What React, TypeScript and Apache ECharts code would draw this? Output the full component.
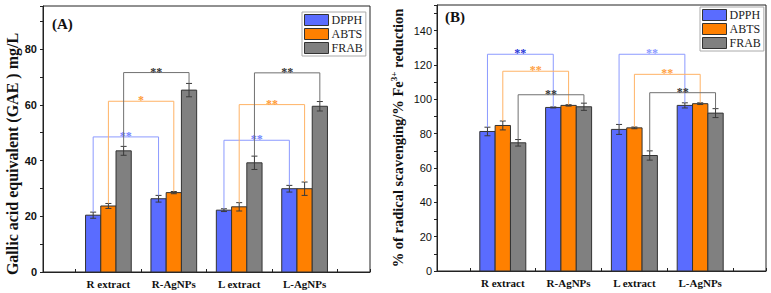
import React, { useEffect, useRef } from "react";
import * as echarts from "echarts";

const categories = ["R extract", "R-AgNPs", "L extract", "L-AgNPs"];
const seriesNames = ["DPPH", "ABTS", "FRAB"];

// Chart A: Gallic acid equivalent
const A_DPPH = [20.4, 26.3, 22.2, 29.9];
const A_DPPH_err = [1.1, 1.2, 0.5, 1.2];
const A_ABTS = [23.7, 28.5, 23.4, 29.9];
const A_ABTS_err = [0.9, 0.4, 1.5, 2.4];
const A_FRAB = [43.5, 65.3, 39.2, 59.5];
const A_FRAB_err = [1.6, 2.4, 2.4, 1.7];

// Chart B: % scavenging
const B_DPPH = [81.3, 95.3, 82.5, 96.5];
const B_DPPH_err = [2.5, 0.3, 2.9, 1.5];
const B_ABTS = [84.8, 96.5, 83.4, 97.5];
const B_ABTS_err = [2.6, 0.4, 0.5, 0.5];
const B_FRAB = [74.7, 95.7, 67.3, 92.0];
const B_FRAB_err = [1.9, 2.1, 2.7, 2.6];

// significance brackets: [series index, from group, to group, bracket height, label]
const A_brackets: [number, number, number, number, string][] = [
  [0, 0, 1, 48.5, "**"],
  [1, 0, 1, 61.3, "*"],
  [2, 0, 1, 71.6, "**"],
  [0, 2, 3, 47.3, "**"],
  [1, 2, 3, 60.1, "**"],
  [2, 2, 3, 71.5, "**"],
];
const B_brackets: [number, number, number, number, string][] = [
  [0, 0, 1, 126.3, "**"],
  [1, 0, 1, 116.4, "**"],
  [2, 0, 1, 102.7, "**"],
  [0, 2, 3, 126.3, "**"],
  [1, 2, 3, 114.6, "**"],
  [2, 2, 3, 103.9, "**"],
];

const A_yTicks = [0, 20, 40, 60, 80];
const B_yTicks = [0, 20, 40, 60, 80, 100, 120, 140];

const COLORS = ["#5a6cff", "#ff8000", "#808080"];
const LINE_COLORS = ["#8c9aff", "#ffb366", "#707070"];
const A_LABEL_COLORS = ["#7082ff", "#ff9a33", "#333333"];
const B_LABEL_COLORS_R = ["#2434d8", "#ffa040", "#333333"];
const B_LABEL_COLORS_L = ["#8c9aff", "#ffa040", "#333333"];

const SERIF = '"Liberation Serif", "Times New Roman", serif';
const SANS = '"Liberation Sans", Arial, sans-serif';
const BW = 0.233;
const OFFSETS = [-BW, 0, BW];

function barSeries(name: string, idx: number, gridIdx: number, vals: number[], errs: number[]) {
  return {
    type: "custom",
    name,
    xAxisIndex: gridIdx,
    yAxisIndex: gridIdx,
    itemStyle: { color: COLORS[idx] },
    encode: { x: 0, y: 1 },
    data: vals.map((v, i) => [i, v, errs[i]]),
    renderItem: (params: any, api: any) => {
      const g = api.value(0);
      const v = api.value(1);
      const e = api.value(2);
      const xc = g + 1 + OFFSETS[idx];
      const p0 = api.coord([xc - BW / 2, 0]);
      const p1 = api.coord([xc + BW / 2, v]);
      const pc = api.coord([xc, v]);
      const pt = api.coord([xc, v + e]);
      const pb = api.coord([xc, v - e]);
      const cap = 3;
      const ls = { stroke: "#3a3a3a", lineWidth: 1 };
      return {
        type: "group",
        children: [
          {
            type: "rect",
            shape: { x: p0[0], y: p1[1], width: p1[0] - p0[0], height: p0[1] - p1[1] },
            style: { fill: COLORS[idx], stroke: "#333", lineWidth: 1 },
          },
          { type: "line", shape: { x1: pc[0], y1: pt[1], x2: pc[0], y2: pb[1] }, style: ls },
          { type: "line", shape: { x1: pc[0] - cap, y1: pt[1], x2: pc[0] + cap, y2: pt[1] }, style: ls },
          { type: "line", shape: { x1: pc[0] - cap, y1: pb[1], x2: pc[0] + cap, y2: pb[1] }, style: ls },
        ],
      };
    },
  };
}

function bracketSeries(
  gridIdx: number,
  brackets: [number, number, number, number, string][],
  vals: number[][],
  errs: number[][],
  labelColor: (b: [number, number, number, number, string]) => string
) {
  return {
    type: "custom",
    xAxisIndex: gridIdx,
    yAxisIndex: gridIdx,
    silent: true,
    encode: { x: 0, y: 1 },
    data: brackets.map((b) => [b[1], b[3], b[2]]),
    renderItem: (params: any, api: any) => {
      const b = brackets[params.dataIndex];
      const s = b[0];
      const from = b[1];
      const to = b[2];
      const h = b[3];
      const xl = from + 1 + OFFSETS[s];
      const xr = to + 1 + OFFSETS[s];
      const lb = vals[s][from] + errs[s][from];
      const rb = vals[s][to] + errs[s][to];
      const pl = api.coord([xl, h]);
      const pr = api.coord([xr, h]);
      const plb = api.coord([xl, lb]);
      const prb = api.coord([xr, rb]);
      const ls = { stroke: LINE_COLORS[s], lineWidth: 1, fill: "none" };
      return {
        type: "group",
        children: [
          {
            type: "polyline",
            shape: { points: [[pl[0], plb[1]], [pl[0], pl[1]], [pr[0], pr[1]], [pr[0], prb[1]]] },
            style: ls,
          },
          {
            type: "text",
            x: (pl[0] + pr[0]) / 2,
            y: pl[1] - 1,
            style: {
              text: b[4],
              fill: labelColor(b),
              font: `bold 12px ${SERIF}`,
              textAlign: "center",
              textVerticalAlign: "middle",
            },
          },
        ],
      };
    },
  };
}

function xAxis(gridIndex: number) {
  return {
    type: "value",
    gridIndex,
    min: 0,
    max: 5,
    interval: 0.5,
    axisLine: { show: true, onZero: false, lineStyle: { color: "#222", width: 1 } },
    axisTick: { show: true, inside: true, length: 3, lineStyle: { color: "#222" } },
    splitLine: { show: false },
    axisLabel: {
      color: "#111",
      fontFamily: SERIF,
      fontWeight: "bold",
      fontSize: 11,
      margin: 6,
      formatter: (v: number) => {
        const r = Math.round(v);
        if (Math.abs(v - r) < 1e-6 && r >= 1 && r <= categories.length) return categories[r - 1];
        return "";
      },
    },
  };
}

function yAxis(gridIndex: number, max: number, labels: number[], bold: boolean, margin: number) {
  return {
    type: "value",
    gridIndex,
    min: 0,
    max,
    interval: 10,
    axisLine: { show: true, onZero: false, lineStyle: { color: "#222", width: 1 } },
    axisTick: { show: true, inside: false, length: 3, lineStyle: { color: "#222" } },
    splitLine: { show: false },
    axisLabel: {
      color: "#111",
      fontFamily: SANS,
      fontWeight: bold ? "bold" : "normal",
      fontSize: 11,
      margin,
      formatter: (v: number) => (labels.indexOf(v) >= 0 ? String(v) : ""),
    },
  };
}

function legend(left: number, top: number) {
  return {
    data: seriesNames,
    orient: "vertical",
    left,
    top,
    icon: "rect",
    itemWidth: 24,
    itemHeight: 11,
    itemGap: 2,
    padding: [2, 3, 2, 2],
    borderColor: "#aaa",
    borderWidth: 1,
    backgroundColor: "#fff",
    selectedMode: false,
    itemStyle: { borderColor: "#333", borderWidth: 1 },
    textStyle: { fontFamily: SERIF, fontSize: 12, color: "#222", padding: [0, 0, 0, -2] },
  };
}

export default function App() {
  const ref = useRef<HTMLDivElement>(null);
  useEffect(() => {
    if (!ref.current) return;
    const chart = echarts.init(ref.current, null, { renderer: "svg" });
    const Avals = [A_DPPH, A_ABTS, A_FRAB];
    const Aerrs = [A_DPPH_err, A_ABTS_err, A_FRAB_err];
    const Bvals = [B_DPPH, B_ABTS, B_FRAB];
    const Berrs = [B_DPPH_err, B_ABTS_err, B_FRAB_err];
    chart.setOption({
      animation: false,
      backgroundColor: "#fff",
      grid: [
        { left: 43, top: 6, width: 327, height: 266, show: true, borderColor: "#222", borderWidth: 1, backgroundColor: "transparent" },
        { left: 437, top: 5, width: 329, height: 266, show: true, borderColor: "#222", borderWidth: 1, backgroundColor: "transparent" },
      ],
      xAxis: [xAxis(0), xAxis(1)],
      yAxis: [yAxis(0, 95.5, A_yTicks, true, 6), yAxis(1, 155, B_yTicks, false, 5)],
      legend: [legend(302, 12), legend(700, 7)],
      series: [
        ...seriesNames.map((n, i) => barSeries(n, i, 0, Avals[i], Aerrs[i])),
        ...seriesNames.map((n, i) => barSeries(n, i, 1, Bvals[i], Berrs[i])),
        bracketSeries(0, A_brackets, Avals, Aerrs, (b) => A_LABEL_COLORS[b[0]]),
        bracketSeries(1, B_brackets, Bvals, Berrs, (b) =>
          b[1] === 0 ? B_LABEL_COLORS_R[b[0]] : B_LABEL_COLORS_L[b[0]]
        ),
      ],
      graphic: [
        {
          type: "text",
          left: 52,
          top: 16,
          style: { text: "(A)", font: `bold 15px ${SERIF}`, fill: "#111" },
        },
        {
          type: "text",
          left: 445,
          top: 9,
          style: { text: "(B)", font: `bold 15px ${SERIF}`, fill: "#111" },
        },
        {
          type: "text",
          x: 12,
          y: 154,
          rotation: Math.PI / 2,
          style: {
            text: "Gallic acid equivalent (GAE ) mg/L",
            font: `bold 16px ${SERIF}`,
            fill: "#111",
            textAlign: "center",
            textVerticalAlign: "middle",
          },
        },
        {
          type: "text",
          x: 398,
          y: 138,
          rotation: Math.PI / 2,
          style: {
            text: "{a|% of radical scavenging/% Fe}{s|3+}{a| reduction}",
            fill: "#111",
            textAlign: "center",
            textVerticalAlign: "middle",
            rich: {
              a: { fontFamily: SERIF, fontWeight: "bold", fontSize: 14.5, fill: "#111", lineHeight: 17 },
              s: { fontFamily: SERIF, fontWeight: "bold", fontSize: 9, fill: "#111", verticalAlign: "top" },
            },
          },
        },
      ],
    });
    return () => chart.dispose();
  }, []);
  return <div ref={ref} style={{ position: "fixed", left: 0, top: 0, width: 771, height: 293 }} />;
}
